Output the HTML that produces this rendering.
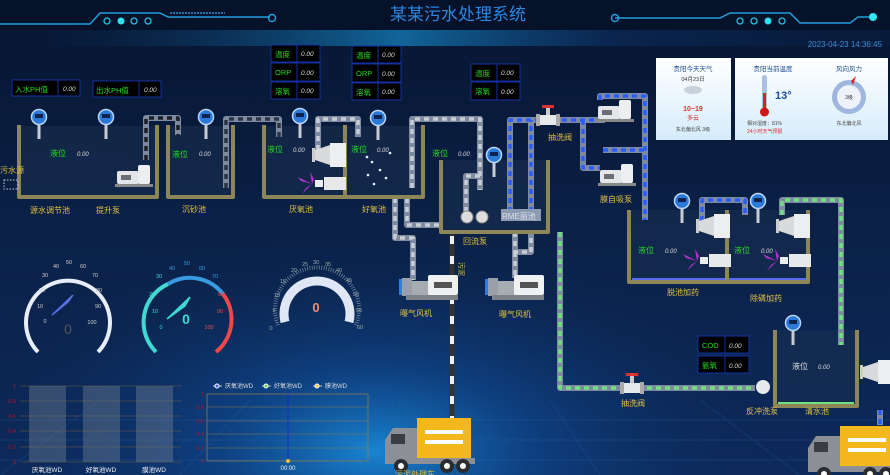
<!DOCTYPE html>
<html><head><meta charset="utf-8"><style>
html,body{margin:0;padding:0;width:890px;height:475px;overflow:hidden;background:#0a1b3c}
svg{display:block}
text{font-family:"Liberation Sans","Noto Sans CJK SC",sans-serif}
</style></head><body>
<svg width="890" height="475" viewBox="0 0 890 475" xmlns="http://www.w3.org/2000/svg">
<defs>
<radialGradient id="glow" cx="0.42" cy="0.95" r="0.5">
<stop offset="0" stop-color="#1a8fe0" stop-opacity="0.9"/>
<stop offset="0.35" stop-color="#0f4f9a" stop-opacity="0.6"/>
<stop offset="1" stop-color="#0a1b3c" stop-opacity="0"/>
</radialGradient>
<linearGradient id="bg" x1="0" y1="0" x2="0" y2="1">
<stop offset="0" stop-color="#071530"/><stop offset="0.5" stop-color="#0b2148"/><stop offset="1" stop-color="#0d2a5c"/>
</linearGradient>
<linearGradient id="band" x1="0" y1="0" x2="1" y2="0">
<stop offset="0" stop-color="#0b2a5a" stop-opacity="0"/><stop offset="0.45" stop-color="#1aa8f0" stop-opacity="0.9"/><stop offset="0.7" stop-color="#0d3b7a" stop-opacity="0.6"/><stop offset="1" stop-color="#0b2a5a" stop-opacity="0.3"/>
</linearGradient>
<linearGradient id="card" x1="0" y1="0" x2="0" y2="1"><stop offset="0" stop-color="#ffffff"/><stop offset="1" stop-color="#d6ecfb"/></linearGradient>
<g id="sensor"><rect x="-1.5" y="6" width="3" height="16" fill="#c8ccd4"/><circle r="7.5" fill="#2a78d8" stroke="#b9d6f5" stroke-width="1.5"/><rect x="-4" y="-3" width="8" height="4" fill="#0c2350"/></g>
<g id="pump"><rect x="0" y="8" width="22" height="13" rx="2" fill="#e3e5e8"/><rect x="4" y="12" width="10" height="5" fill="#6b6f75"/><rect x="21" y="2" width="12" height="19" rx="2" fill="#eceef0"/><rect x="-2" y="21" width="38" height="3" fill="#888"/></g>
<g id="blower"><rect x="0" y="3" width="10" height="18" fill="#9aa0a8"/><rect x="-3" y="4" width="3" height="16" fill="#2f7ee8"/><rect x="10" y="6" width="18" height="14" fill="#a7acb3"/><rect x="26" y="0" width="30" height="20" rx="2" fill="#eef0f2"/><rect x="32" y="7" width="18" height="6" fill="#555"/><rect x="4" y="20" width="52" height="5" fill="#7d8288"/></g>
<g id="mixer"><path d="M0,0 L-14,-7 L-11,-3Z M0,0 L-10,10 L-6,4Z M0,0 L-2,-12 L2,-5Z" fill="#b030d0"/><rect x="3" y="-4" width="8" height="7" fill="#eee"/><rect x="12" y="-7" width="22" height="13" fill="#e6e8ea"/></g>
<g id="aer"><rect x="0" y="-5" width="3" height="14" fill="#ccc"/><path d="M3,-3 L18,-8 L18,12 L3,7Z" fill="#d8dadc"/><rect x="18" y="-10" width="16" height="24" fill="#eceef0"/></g>
<g id="truck"><rect x="32" y="0" width="54" height="42" fill="#f5b81c"/><rect x="40" y="12" width="38" height="4" fill="#fff"/><rect x="40" y="22" width="38" height="4" fill="#fff"/><path d="M0,22 L8,10 L32,10 L32,42 L0,42Z" fill="#8c9096"/><rect x="6" y="16" width="14" height="10" fill="#3a3d42"/><rect x="0" y="40" width="90" height="6" fill="#8c9096"/><circle cx="16" cy="48" r="7" fill="#2a2c30"/><circle cx="16" cy="48" r="3" fill="#fff"/><circle cx="62" cy="48" r="7" fill="#2a2c30"/><circle cx="62" cy="48" r="3" fill="#fff"/><circle cx="78" cy="48" r="7" fill="#2a2c30"/><circle cx="78" cy="48" r="3" fill="#fff"/></g>
<g id="valve"><rect x="-12" y="-6" width="4" height="12" fill="#aaa"/><rect x="8" y="-6" width="4" height="12" fill="#aaa"/><rect x="-8" y="-5" width="16" height="10" fill="#e6e8ea"/><rect x="-2" y="-12" width="4" height="7" fill="#ccc"/><rect x="-6" y="-15" width="12" height="3" fill="#e03030"/></g>
</defs>
<rect width="890" height="475" fill="url(#bg)"/>
<rect width="890" height="475" fill="url(#glow)"/>
<g stroke="#2a6bb8" stroke-opacity="0.25" stroke-width="1">
<path d="M0,420 L890,420 M0,440 L890,440 M0,460 L890,460 M100,400 L0,475 M250,400 L180,475 M400,400 L390,475 M550,400 L600,475 M700,400 L800,475"/>
</g>
<!-- header -->
<rect x="0" y="0" width="890" height="30" fill="#06122a"/>
<rect x="0" y="30" width="890" height="16" fill="url(#band)" opacity="0.6"/>
<path d="M0,24 H90 L100,13 H160 L168,17 H270" stroke="#1e9fd8" stroke-width="1.5" fill="none"/>
<circle cx="272" cy="18" r="3.5" fill="none" stroke="#1e9fd8" stroke-width="1.5"/>
<path d="M170,13 H225" stroke="#1e6fb0" stroke-width="2" stroke-dasharray="2 1"/>
<g fill="none" stroke="#24c0e0" stroke-width="1.3"><circle cx="107" cy="21" r="3"/><circle cx="134" cy="21" r="3"/><circle cx="148" cy="21" r="3"/></g>
<circle cx="121" cy="21" r="3.5" fill="#30e0f0"/>
<path d="M615,18 H720 L730,13 H790 L800,23 H850 L858,17 H875" stroke="#1e9fd8" stroke-width="1.5" fill="none"/>
<circle cx="615" cy="18" r="3.5" fill="none" stroke="#1e9fd8" stroke-width="1.5"/>
<circle cx="873" cy="17" r="4" fill="#30e8f0"/>
<g fill="none" stroke="#24c0e0" stroke-width="1.3"><circle cx="740" cy="21" r="3"/><circle cx="754" cy="21" r="3"/><circle cx="782" cy="21" r="3"/></g>
<circle cx="768" cy="21" r="3.5" fill="#30e0f0"/>
<text x="458" y="20" font-size="17" fill="#2b86e0" text-anchor="middle">某某污水处理系统</text>
<text x="882" y="47" font-size="8" fill="#3b8bd4" text-anchor="end">2023-04-23  14:36:45</text>

<!-- weather cards -->
<rect x="656" y="58" width="75" height="82" fill="url(#card)"/>
<text x="693" y="71" font-size="6.5" fill="#1a4f8f" text-anchor="middle">贵阳今天天气</text>
<text x="693" y="81" font-size="5.5" fill="#333" text-anchor="middle">04月23日</text>
<ellipse cx="693" cy="90" rx="9" ry="4" fill="#c7d2dc"/>
<text x="693" y="111" font-size="7" fill="#e03030" text-anchor="middle" font-weight="bold">10~19</text>
<text x="693" y="120" font-size="6" fill="#d03020" text-anchor="middle">多云</text>
<text x="693" y="131" font-size="5" fill="#444" text-anchor="middle">东北偏北风 3级</text>
<rect x="735" y="58" width="153" height="82" fill="url(#card)"/>
<text x="773" y="71" font-size="6.5" fill="#1a4f8f" text-anchor="middle">贵阳当前温度</text>
<rect x="762" y="75" width="5" height="34" rx="2.5" fill="#a9c0e0"/><rect x="763" y="93" width="3" height="16" fill="#e02020"/><circle cx="764.5" cy="112" r="4.5" fill="#d01818"/>
<text x="775" y="99" font-size="11" fill="#1a4f9f" font-weight="bold">13°</text>
<text x="747" y="125" font-size="5" fill="#444">相对湿度：81%</text>
<text x="747" y="133" font-size="5" fill="#e03030">24小时天气预报</text>
<text x="849" y="71" font-size="6.5" fill="#1a4f8f" text-anchor="middle">风向风力</text>
<circle cx="849" cy="97" r="17" fill="#9fb6e0"/><circle cx="849" cy="97" r="12" fill="#eef2fa"/>
<text x="849" y="99" font-size="5" fill="#333" text-anchor="middle">3级</text>
<path d="M851,81 L856,76 L853,85Z" fill="#e02020"/>
<text x="849" y="125" font-size="5" fill="#444" text-anchor="middle">东北偏北风</text>

<!-- data boxes -->
<g font-size="7.5">
<g stroke="#1530a0" stroke-width="1" fill="#000">
<rect x="12" y="80" width="46" height="16"/><rect x="58" y="80" width="22" height="16"/>
<rect x="93" y="81" width="46" height="16"/><rect x="139" y="81" width="22" height="16"/>
<rect x="271" y="45" width="26" height="17"/><rect x="297" y="45" width="23" height="17"/>
<rect x="271" y="63" width="26" height="18"/><rect x="297" y="63" width="23" height="18"/>
<rect x="271" y="82" width="26" height="17"/><rect x="297" y="82" width="23" height="17"/>
<rect x="352" y="46" width="26" height="17"/><rect x="378" y="46" width="23" height="17"/>
<rect x="352" y="64" width="26" height="18"/><rect x="378" y="64" width="23" height="18"/>
<rect x="352" y="83" width="26" height="17"/><rect x="378" y="83" width="23" height="17"/>
<rect x="471" y="64" width="26" height="17"/><rect x="497" y="64" width="23" height="17"/>
<rect x="471" y="82" width="26" height="18"/><rect x="497" y="82" width="23" height="18"/>
<rect x="698" y="336" width="27" height="17"/><rect x="725" y="336" width="24" height="17"/>
<rect x="698" y="356" width="27" height="17"/><rect x="725" y="356" width="24" height="17"/>
</g>
<g fill="#22dd22">
<text x="15" y="92">入水PH值</text><text x="96" y="93">出水PH值</text>
<text x="275" y="57">温度</text><text x="275" y="75">ORP</text><text x="275" y="94">溶氧</text>
<text x="356" y="58">温度</text><text x="356" y="76">ORP</text><text x="356" y="95">溶氧</text>
<text x="475" y="76">温度</text><text x="475" y="94">溶氧</text>
<text x="702" y="348">COD</text><text x="702" y="368">氨氧</text>
</g>
<g fill="#ddd" font-size="6.5" font-style="italic">
<text x="63" y="91">0.00</text><text x="144" y="92">0.00</text>
<text x="301" y="56">0.00</text><text x="301" y="75">0.00</text><text x="301" y="93">0.00</text>
<text x="382" y="57">0.00</text><text x="382" y="76">0.00</text><text x="382" y="94">0.00</text>
<text x="501" y="75">0.00</text><text x="501" y="94">0.00</text>
<text x="729" y="348">0.00</text><text x="729" y="368">0.00</text>
</g>
</g>

<!-- tank fills -->
<g fill="#1a3050" opacity="0.55">
<rect x="20" y="126" width="136" height="70"/><rect x="170" y="126" width="61" height="70"/>
<rect x="265" y="126" width="157" height="70"/><rect x="442" y="160" width="105" height="71"/>
<rect x="630" y="210" width="177" height="70"/><rect x="777" y="330" width="79" height="74"/>
</g>
<!-- pipes -->
<g fill="none" stroke-linejoin="round">
<g stroke="#7d8aa0" stroke-width="6">
<path d="M146,160 V118 H178 V135"/><path d="M226,188 V119 H279 V137"/>
<path d="M318,150 V119 H358 V137"/><path d="M412,188 V119 H480 V190"/>
<path d="M480,176 H466 V215"/><path d="M395,198 V238 H413 V280"/><path d="M407,198 V225 H440"/>
<path d="M515,232 V252 H531 V232"/><path d="M515,252 V278"/>
<path d="M510,212 V120 H605"/><path d="M531,212 V120"/><path d="M583,120 V168 H600"/>
<path d="M600,100 V96 H645 V220"/><path d="M603,150 H645"/>
<path d="M560,232 V388 H755"/><path d="M702,230 V200 H745 V215"/><path d="M782,215 V200 H841 V345"/>
<path d="M880,410 V425"/>
</g>
<g stroke-width="3.5" stroke-dasharray="5 4">
<path d="M146,160 V118 H178 V135" stroke="#1c1f26"/><path d="M226,188 V119 H279 V137" stroke="#2c3444"/>
<path d="M318,150 V119 H358 V137" stroke="#c8cdd6"/><path d="M412,188 V119 H480 V190" stroke="#c8cdd6"/>
<path d="M480,176 H466 V215" stroke="#c8cdd6"/><path d="M395,198 V238 H413 V280" stroke="#c8cdd6"/><path d="M407,198 V225 H440" stroke="#c8cdd6"/>
<path d="M515,232 V252 H531 V232 M515,252 V278" stroke="#c8cdd6"/>
<path d="M510,212 V120 H605 M531,212 V120 M583,120 V168 H600 M600,100 V96 H645 V220 M603,150 H645" stroke="#2a5cff"/>
<path d="M560,232 V388 H755 M782,215 V200 H841 V345" stroke="#70e080"/>
<path d="M702,230 V200 H745 V215 M880,410 V425" stroke="#2a5cff"/>
</g>
<path d="M452,232 V420" stroke="#333" stroke-width="5"/>
<path d="M452,236 V420" stroke="#eee" stroke-width="4" stroke-dasharray="8 12"/>
</g>
<!-- tank walls -->
<g fill="none" stroke="#8c8658" stroke-width="4" stroke-linejoin="round">
<path d="M19,125 V197 H157 V125"/><path d="M168,125 V197 H233 V125"/>
<path d="M264,125 V197 H423 V125 M345,125 V197"/><path d="M441,160 V232 H548 V160"/>
<path d="M629,210 V282 H808 V210 M727,210 V282"/><path d="M775,330 V406 H857 V330"/>
</g>
<path d="M632,279 H725 M729,279 H806" stroke="#5a6af0" stroke-width="2"/>
<path d="M778,403 H854" stroke="#70e080" stroke-width="2"/>
<rect x="4" y="180" width="14" height="9" fill="none" stroke="#ccc" stroke-width="1" stroke-dasharray="1.5 1.5"/>

<!-- sensors -->
<use href="#sensor" x="39" y="117"/><use href="#sensor" x="106" y="117"/><use href="#sensor" x="206" y="117"/>
<use href="#sensor" x="300" y="116"/><use href="#sensor" x="378" y="118"/><use href="#sensor" x="494" y="155"/>
<use href="#sensor" x="682" y="201"/><use href="#sensor" x="758" y="201"/><use href="#sensor" x="793" y="323"/>
<!-- equipment -->
<use href="#pump" x="117" y="163"/>
<use href="#pump" x="598" y="98"/><use href="#pump" x="600" y="162"/>
<use href="#blower" x="402" y="275"/><use href="#blower" x="488" y="275"/>
<use href="#aer" x="312" y="153"/><use href="#mixer" x="312" y="184"/>
<use href="#aer" x="696" y="224"/><use href="#mixer" x="697" y="261"/>
<use href="#aer" x="776" y="224"/><use href="#mixer" x="777" y="261"/>
<use href="#aer" x="860" y="370"/>
<use href="#valve" x="548" y="120"/><use href="#valve" x="632" y="388"/>
<circle cx="467" cy="217" r="6" fill="#ddd" stroke="#888"/><circle cx="482" cy="217" r="6" fill="#ddd" stroke="#888"/>
<rect x="501" y="209" width="40" height="12" fill="#8c9bb0"/><text x="502" y="219" font-size="8" fill="#dde">RME菌池</text>
<circle cx="763" cy="387" r="7" fill="#e6e8ea"/>
<g fill="#e8f4ff"><circle cx="367" cy="157" r="1.3"/><circle cx="372" cy="162" r="1.3"/><circle cx="390" cy="153" r="1.3"/><circle cx="368" cy="175" r="1.3"/><circle cx="380" cy="170" r="1.3"/><circle cx="386" cy="178" r="1.3"/><circle cx="374" cy="184" r="1.3"/></g>

<!-- labels -->
<g font-size="8" fill="#e0c040">
<text x="30" y="213">源水调节池</text><text x="96" y="213">提升泵</text><text x="182" y="212">沉砂池</text>
<text x="289" y="212">厌氧池</text><text x="362" y="212">好氧池</text><text x="463" y="244">回流泵</text>
<text x="548" y="140">抽洗阀</text><text x="600" y="202">膜自吸泵</text>
<text x="667" y="295">脱池加药</text><text x="750" y="301">除磷加药</text>
<text x="400" y="316">曝气风机</text><text x="499" y="317">曝气风机</text>
<text x="621" y="406">抽洗阀</text><text x="746" y="414">反冲洗泵</text><text x="805" y="414">清水池</text>
<text x="0" y="173">污水源</text>
<text x="459" y="262" transform="rotate(90 459 262)" font-size="7">污泥</text>
</g>
<g font-size="8" fill="#22dd22">
<text x="50" y="156">液位</text><text x="172" y="157">液位</text><text x="267" y="152">液位</text><text x="351" y="152">液位</text>
<text x="432" y="156">液位</text><text x="638" y="253">液位</text><text x="734" y="253">液位</text>
</g>
<text x="792" y="369" font-size="8" fill="#ddd">液位</text>
<g font-size="6" fill="#ddd" font-style="italic">
<text x="77" y="156">0.00</text><text x="199" y="156">0.00</text><text x="293" y="152">0.00</text><text x="377" y="152">0.00</text>
<text x="458" y="156">0.00</text><text x="665" y="253">0.00</text><text x="761" y="253">0.00</text><text x="818" y="369">0.00</text>
</g>

<!-- gauges -->
<path d="M38,352 A42,42 0 1 1 98,352" fill="none" stroke="#e8eef8" stroke-width="4"/>
<g font-size="5.5" fill="#ccc" text-anchor="middle">
<text x="45" y="323">0</text><text x="40" y="308">10</text><text x="42" y="292">20</text><text x="45" y="277">30</text><text x="56" y="268">40</text><text x="69" y="264">50</text><text x="83" y="268">60</text><text x="95" y="277">70</text><text x="99" y="292">80</text><text x="98" y="308">90</text><text x="92" y="324">100</text>
</g>
<path d="M52,315 L73,295 L68,302Z" fill="#5570e0" stroke="#5570e0" stroke-width="1.5"/>
<text x="68" y="334" font-size="14" fill="#555" text-anchor="middle">0</text>
<path d="M156,352 A42,42 0 0 1 168,284" fill="none" stroke="#40d8d0" stroke-width="4"/>
<path d="M168,284 A42,42 0 0 1 223,294" fill="none" stroke="#3a9ae0" stroke-width="4"/>
<path d="M223,294 A42,42 0 0 1 216,352" fill="none" stroke="#f04848" stroke-width="4"/>
<g font-size="5.5" text-anchor="middle"><g fill="#40d8d0"><text x="161" y="329">0</text><text x="155" y="313">10</text><text x="152" y="296">20</text><text x="159" y="278">30</text></g><g fill="#3a9ae0"><text x="172" y="270">40</text><text x="187" y="265">50</text><text x="202" y="270">60</text><text x="215" y="278">70</text></g><g fill="#f04848"><text x="221" y="296">80</text><text x="220" y="313">90</text><text x="209" y="329">100</text></g></g>
<path d="M167,319 L190,297 L185,306Z" fill="#40d8d0" stroke="#40d8d0" stroke-width="1.5"/>
<text x="186" y="324" font-size="14" fill="#40d8d0" text-anchor="middle" font-weight="bold">0</text>
<path d="M285,322 A33,33 0 1 1 349,322" fill="none" stroke="#dfe6f6" stroke-width="9"/>
<path d="M278,325 A42,42 0 1 1 356,325" fill="none" stroke="#8a9bb0" stroke-width="4" stroke-dasharray="0.6 1.8"/>
<g font-size="5.5" fill="#9aa" text-anchor="middle"><text x="271" y="330">0</text><text x="274" y="312">5</text><text x="277" y="297">10</text><text x="283" y="283">15</text><text x="294" y="272">20</text><text x="305" y="266">25</text><text x="316" y="264">30</text><text x="328" y="266">35</text><text x="339" y="272">40</text><text x="349" y="282">45</text><text x="356" y="296">50</text><text x="359" y="312">55</text><text x="360" y="329">60</text></g>
<text x="316" y="312" font-size="13" fill="#f09070" text-anchor="middle" font-weight="bold">0</text>

<!-- bar chart -->
<g stroke="#8a6a30" stroke-width="0.6" opacity="0.8"><path d="M20,386 H182 M20,401 H182 M20,416 H182 M20,431 H182 M20,447 H182 M20,462 H182"/></g>
<g fill="#6a7a90" opacity="0.45"><rect x="29" y="386" width="37" height="76"/><rect x="83" y="386" width="37" height="76"/><rect x="136" y="386" width="37" height="76"/></g>
<g font-size="5.5" fill="#c01020" text-anchor="end"><text x="16" y="388">1</text><text x="16" y="403">0.8</text><text x="16" y="418">0.6</text><text x="16" y="433">0.4</text><text x="16" y="449">0.2</text><text x="16" y="464">0</text></g>
<g font-size="6.5" fill="#eee" text-anchor="middle"><text x="47" y="472">厌氧池WD</text><text x="101" y="472">好氧池WD</text><text x="154" y="472">膜池WD</text></g>
<!-- line chart -->
<rect x="207" y="394" width="161" height="67" fill="none" stroke="#8a7a50" stroke-width="0.8"/>
<g stroke="#8a7a50" stroke-width="0.6"><path d="M207,407 H368 M207,421 H368 M207,434 H368 M207,448 H368"/></g>
<path d="M288,394 V461" stroke="#1a2ad0" stroke-width="1"/>
<circle cx="288" cy="461" r="2" fill="#f0c040"/>
<g font-size="5.5" fill="#c01020" text-anchor="end"><text x="204" y="396">1</text><text x="204" y="409">0.8</text><text x="204" y="423">0.6</text><text x="204" y="436">0.4</text><text x="204" y="450">0.2</text><text x="204" y="463">0</text></g>
<text x="288" y="470" font-size="6" fill="#eee" text-anchor="middle">00:00</text>
<g font-size="6" fill="#ddd"><path d="M213,386 H222 M262,386 H271 M313,386 H322" stroke-width="1.2" stroke="#aab"/><circle cx="217" cy="386" r="2" fill="#4060e0" stroke="#fff"/><circle cx="266" cy="386" r="2" fill="#50d050" stroke="#fff"/><circle cx="317" cy="386" r="2" fill="#f0c040" stroke="#fff"/><text x="225" y="388">厌氧池WD</text><text x="274" y="388">好氧池WD</text><text x="325" y="388">膜池WD</text></g>

<use href="#truck" x="385" y="418"/>
<use href="#truck" x="808" y="426"/>
<text x="395" y="477" font-size="8" fill="#e0c040">污泥处理车</text>
</svg>
</body></html>
